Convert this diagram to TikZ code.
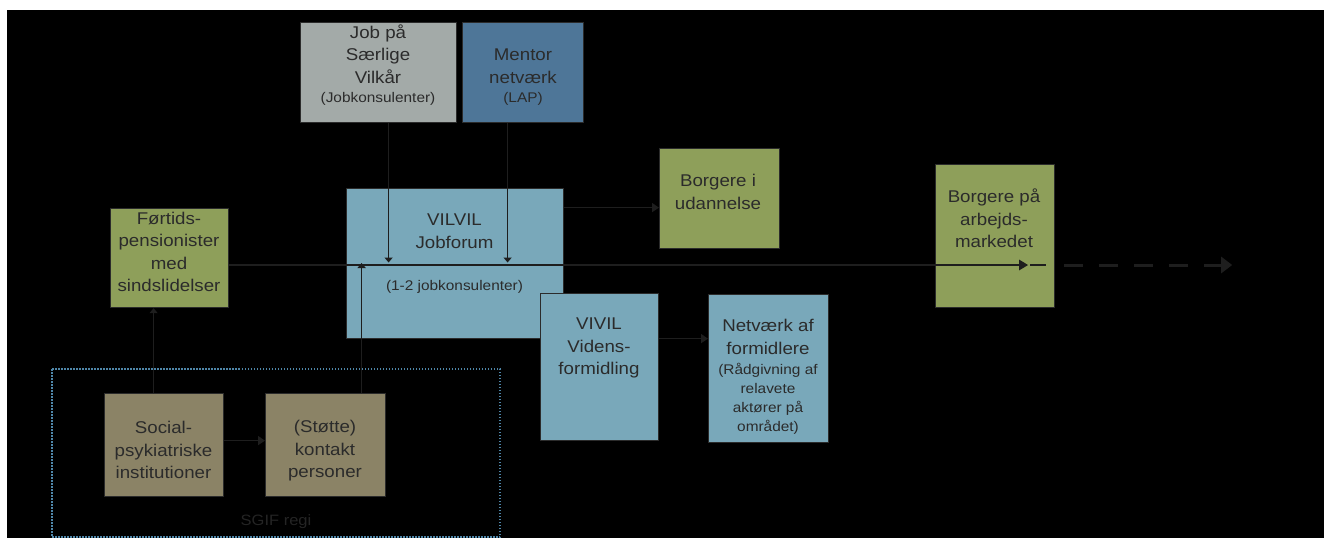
\documentclass[tikz,border=0pt]{standalone}
\usepackage{fontspec}
\setmainfont{Liberation Sans}[FakeStretch=1.1]
\usetikzlibrary{arrows.meta}
\definecolor{bgray}{HTML}{A3AAA8}
\definecolor{mblue}{HTML}{4E7698}
\definecolor{lblue}{HTML}{79A8BA}
\definecolor{bgreen}{HTML}{8E9F5A}
\definecolor{btan}{HTML}{8B8366}
\definecolor{boxline}{HTML}{2B2B2B}
\definecolor{txtcol}{HTML}{2B2B2B}
\definecolor{conncol}{HTML}{1E1E1E}
\definecolor{dotcol}{HTML}{4F86A8}
\definecolor{regicol}{HTML}{242424}
\begin{document}
\begin{tikzpicture}[x=1pt,y=-1pt,
  box/.style={draw=boxline, line width=1.2pt, inner sep=0pt, anchor=north west},
  txt/.style={text=txtcol, align=center, inner sep=0pt, font=\fontsize{17}{22.5}\selectfont},
  stxt/.style={text=txtcol, align=center, inner sep=0pt, font=\fontsize{14}{19}\selectfont},
  regi/.style={text=regicol, inner sep=0pt, font=\fontsize{15}{18}\selectfont},
  varrow/.style={draw=conncol, line width=1.3pt, -{Triangle[width=8pt,length=5pt]}},
  harrow/.style={draw=conncol, line width=1.6pt, -{Triangle[width=9pt,length=7pt]}},
  mainline/.style={draw=conncol, line width=2.6pt},
  dashline/.style={draw=conncol, line width=3pt, dash pattern=on 19pt off 16pt}
]
\useasboundingbox (0,0) rectangle (1330,538);
\fill[white] (0,0) rectangle (1330,538);
\fill[black] (7,10) rectangle (1324,538);

% dotted frame
\draw[dotcol, line width=1.3pt, dash pattern=on 1.5pt off 1.5pt] (52,369) rectangle (500,537);

% boxes
\node[box, fill=bgray, minimum width=156pt, minimum height=100pt] (job) at (300,22) {};
\node[box, fill=mblue, minimum width=121pt, minimum height=100pt] (mentor) at (462,22) {};
\node[box, fill=lblue, minimum width=217pt, minimum height=150pt] (vil) at (346,188) {};
\node[box, fill=bgreen, minimum width=118pt, minimum height=99pt] (fort) at (110,208) {};
\node[box, fill=bgreen, minimum width=120pt, minimum height=100pt] (udd) at (659,148) {};
\node[box, fill=bgreen, minimum width=119pt, minimum height=143pt] (arb) at (935,164) {};
\node[box, fill=lblue, minimum width=118pt, minimum height=147pt] (viv) at (540,293) {};
\node[box, fill=lblue, minimum width=120pt, minimum height=148pt] (net) at (708,294) {};
\node[box, fill=btan, minimum width=119pt, minimum height=103pt] (soc) at (104,393) {};
\node[box, fill=btan, minimum width=120pt, minimum height=103pt] (sto) at (265,393) {};

% texts
\node[txt] (tjob) at (378,54) {Job på\\Særlige\\Vilkår};
\node[stxt] (tjob2) at (378,99) {(Jobkonsulenter)};
\node[txt] (tmen) at (523,66) {Mentor\\netværk};
\node[stxt] (tmen2) at (523,99) {(LAP)};
\node[txt] (tvil) at (454.5,231) {VILVIL\\Jobforum};
\node[stxt] (tvil2) at (454.5,287) {(1-2 jobkonsulenter)};
\node[txt] (tfort) at (169,252) {Førtids-\\pensionister\\med\\sindslidelser};
\node[txt] (tudd) at (718,192) {Borgere i\\udannelse};
\node[txt] (tarb) at (994,218.5) {Borgere på\\arbejds-\\markedet};
\node[txt] (tviv) at (599,348) {VIVIL\\Videns-\\formidling};
\node[txt] (tnet) at (768,337) {Netværk af\\formidlere};
\node[stxt] (tnet2) at (768,398.5) {(Rådgivning af\\relavete\\aktører på\\området)};
\node[txt] (tsoc) at (163.5,450) {Social-\\psykiatriske\\institutioner};
\node[txt] (tsto) at (325,451) {(Støtte)\\kontakt\\personer};
\node[regi] (tregi) at (276,522) {SGIF regi};

% helper coordinates
\coordinate (mainy) at (0,265);
\coordinate (j1) at ([xshift=10pt]job.south);
\coordinate (m1) at ([xshift=-15.5pt]mentor.south);
\coordinate (st1) at ([xshift=36pt]sto.north);
\coordinate (so1) at ([xshift=-10.5pt]soc.north);
\coordinate (so2) at ([yshift=4.5pt]soc.east);
\coordinate (u1) at ([yshift=-9pt]udd.west);
\coordinate (n1) at ([yshift=28.5pt]viv.east);
\coordinate (arbE) at (arb.east |- mainy);
\coordinate (mainend) at ([xshift=-27pt]arbE);
\coordinate (tailstart) at ([xshift=-25pt]arbE);
\coordinate (tailend) at ([xshift=-9pt]arbE);
\coordinate (dstart) at ([xshift=9pt]arbE);
\coordinate (dend) at ([xshift=177pt]arbE);

% main flow
\draw[mainline, -{Triangle[width=10pt,length=9pt]}] (fort.east |- mainy) -- (mainend);
\draw[mainline] (tailstart) -- (tailend);
\draw[dashline, -{Triangle[width=16pt,length=11pt]}] (dstart) -- (dend);

% other connectors
\draw[varrow, shorten >=2.5pt] (j1) -- (j1 |- mainy);
\draw[varrow, shorten >=2.5pt] (m1) -- (m1 |- mainy);
\draw[varrow, shorten >=-2pt] (st1) -- (st1 |- mainy);
\draw[varrow] (so1) -- (so1 |- fort.south);
\draw[harrow] (so2) -- (so2 -| sto.west);
\draw[harrow] (u1 -| vil.east) -- (u1);
\draw[harrow] (n1) -- (n1 -| net.west);
\end{tikzpicture}
\end{document}
